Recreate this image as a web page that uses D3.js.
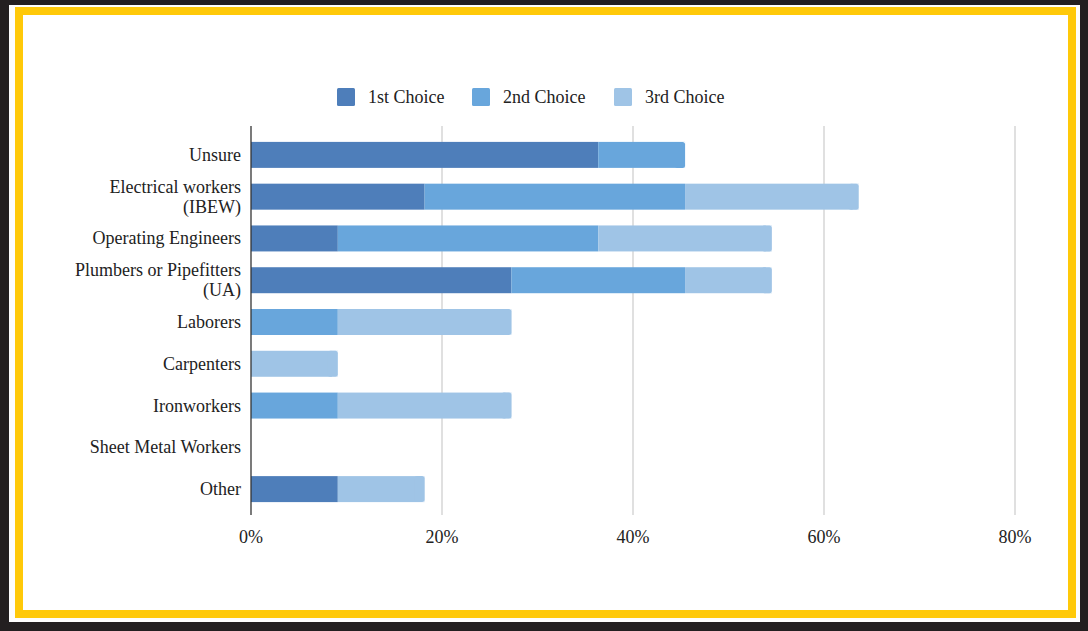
<!DOCTYPE html>
<html><head><meta charset="utf-8">
<script src="https://cdn.jsdelivr.net/npm/d3@7"></script>
<style>html,body{margin:0;padding:0;background:#231f20;}svg{display:block;}</style>
</head><body>
<script>
const categories = ["Unsure","Electrical workers\n(IBEW)","Operating Engineers","Plumbers or Pipefitters\n(UA)","Laborers","Carpenters","Ironworkers","Sheet Metal Workers","Other"];
const seriesNames = ["1st Choice","2nd Choice","3rd Choice"];
const first  = [36.36,18.18,9.09,27.27,0,0,0,0,9.09];
const second = [9.09,27.27,27.27,18.18,9.09,0,9.09,0,0];
const third  = [0,18.18,18.18,9.09,18.18,9.09,18.18,0,9.09];
const xTicks = [0,20,40,60,80];
const colors = ["#4e7eba","#68a6dc","#9fc4e6"];

const W=1088,H=631;
const svg=d3.select("body").append("svg").attr("width",W).attr("height",H);
svg.append("rect").attr("width",W).attr("height",H).attr("fill","#231f20");
svg.append("rect").attr("x",9).attr("y",5).attr("width",1071).attr("height",617).attr("fill","#fdfdfd");
svg.append("rect").attr("x",19).attr("y",11).attr("width",1053).attr("height",603).attr("fill","#fff").attr("stroke","#ffc909").attr("stroke-width",8);

const font="'Liberation Serif','Times New Roman',serif";
const fs=18;
const x=d3.scaleLinear().domain([0,80]).range([251,1015]);
const y=d3.scaleBand().domain(categories).range([134,510]).paddingInner(0.378).paddingOuter(0.189);

// grid
svg.append("g").selectAll("line").data(xTicks.filter(d=>d>0)).join("line")
  .attr("x1",d=>x(d)).attr("x2",d=>x(d)).attr("y1",126).attr("y2",515)
  .attr("stroke","#cccccc").attr("stroke-width",1.2);

const stackData=categories.map((c,i)=>({cat:c,s0:first[i],s1:second[i],s2:third[i]}));
const stack=d3.stack().keys(["s0","s1","s2"])(stackData);
const g=svg.append("g");
stack.forEach((layer,li)=>{
  g.selectAll(null).data(layer.filter(d=>d[1]-d[0]>0)).join("rect")
    .attr("x",d=>x(d[0])).attr("y",d=>y(d.data.cat))
    .attr("width",d=>x(d[1])-x(d[0])).attr("height",y.bandwidth())
    .attr("fill",colors[li]);
});
// rounded right ends
stackData.forEach((d,i)=>{
  const tot=first[i]+second[i]+third[i];
  if(tot<=0) return;
  const lastIdx = third[i]>0?2:(second[i]>0?1:0);
  const start = lastIdx===2?first[i]+second[i]:(lastIdx===1?first[i]:0);
  const x0=x(start),x1=x(tot);
  g.append("rect").attr("x",x1-6).attr("y",y(d.cat)).attr("width",6).attr("height",y.bandwidth()).attr("fill","#fff");
  g.append("rect").attr("x",Math.max(x0,x1-10)).attr("y",y(d.cat)).attr("width",x1-Math.max(x0,x1-10)).attr("height",y.bandwidth()).attr("rx",2.5).attr("fill",colors[lastIdx]);
});

// axis line
svg.append("line").attr("x1",x(0)).attr("x2",x(0)).attr("y1",126).attr("y2",515).attr("stroke","#333").attr("stroke-width",1.3);

// x tick labels
svg.append("g").selectAll("text").data(xTicks).join("text")
  .attr("x",d=>x(d)).attr("y",543).attr("text-anchor","middle")
  .attr("font-family",font).attr("font-size",fs).attr("fill","#222").text(d=>d+"%");

// category labels
categories.forEach(c=>{
  const lines=c.split("\n");
  const cy=y(c)+y.bandwidth()/2;
  const t=svg.append("text").attr("text-anchor","end").attr("font-family",font).attr("font-size",fs).attr("fill","#222");
  lines.forEach((ln,k)=>{
    t.append("tspan").attr("x",241).attr("y",cy+6+(k-(lines.length-1)/2)*20).text(ln);
  });
});

// legend
const legX=[337,472,614];
seriesNames.forEach((n,i)=>{
  svg.append("rect").attr("x",legX[i]).attr("y",88).attr("width",18).attr("height",18).attr("rx",1.5).attr("fill",colors[i]);
  svg.append("text").attr("x",legX[i]+31).attr("y",103).attr("font-family",font).attr("font-size",fs).attr("fill","#222").text(n);
});
</script>
</body></html>
